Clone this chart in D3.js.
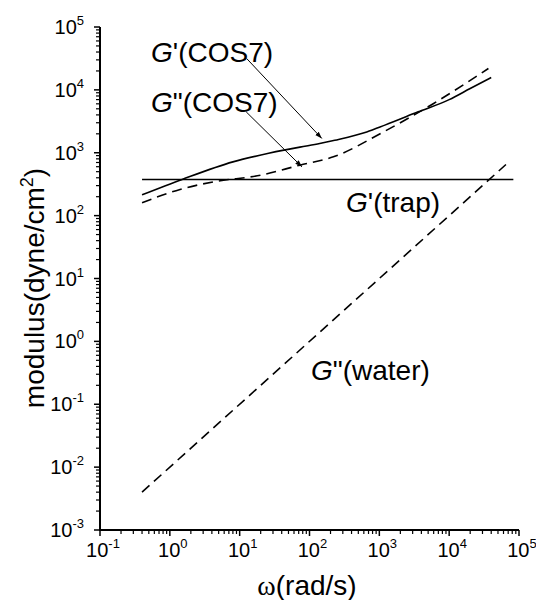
<!DOCTYPE html>
<html>
<head>
<meta charset="utf-8">
<script src="https://cdn.jsdelivr.net/npm/d3@7"></script>
<style>
  body { margin: 0; background: #fff; }
  svg text { font-family: "Liberation Sans", Arial, sans-serif; fill: #000; }
</style>
</head>
<body>
<div id="chart"></div>
<script>
// frequency (rad/s) and moduli (dyne/cm^2)
var omegaCos7Storage = [0.4, 1.5, 8, 26, 43, 73, 140, 230, 660, 1200, 3600, 10000, 20000, 40000];
var gStorageCos7 = [214, 376, 716, 980, 1100, 1230, 1400, 1580, 2140, 2750, 4470, 7000, 10500, 15700];

var omegaCos7Loss = [0.4, 1.4, 4.2, 20, 73, 220, 1150, 6000, 36500];
var gLossCos7 = [160, 261, 344, 440, 635, 860, 2150, 6080, 21900];

var omegaTrap = [0.4, 83000];
var gStorageTrap = [376, 376];

var omegaWater = [0.4, 65000];
var gLossWater = [0.004, 650];

var xTickExp = [-1, 0, 1, 2, 3, 4, 5];
var yTickExp = [-3, -2, -1, 0, 1, 2, 3, 4, 5];

document.addEventListener("DOMContentLoaded", function() {
    var w = 536;
    var h = 600;

    var x = d3.scaleLog().domain([0.1, 1e5]).range([100, 519]);
    var y = d3.scaleLog().domain([1e-3, 1e5]).range([530, 27]);

    var svg = d3.select("#chart")
                .append("svg")
                .attr("width", w)
                .attr("height", h);

    svg.append("defs").append("marker")
       .attr("id", "head")
       .attr("viewBox", "0 0 10 10")
       .attr("refX", 10).attr("refY", 5)
       .attr("markerWidth", 7).attr("markerHeight", 7)
       .attr("orient", "auto")
       .append("path")
       .attr("d", "M0,1.5 L10,5 L0,8.5 Z")
       .attr("fill", "#000");

    // minor ticks 2..9 in each decade
    function minors(exps) {
        var out = [];
        exps.slice(0, -1).forEach(function(e) {
            for (var k = 2; k <= 9; k++) out.push(k * Math.pow(10, e));
        });
        return out;
    }

    var xAxis = svg.append("g").attr("transform", "translate(0,530)");
    xAxis.append("line").attr("x1", 100).attr("x2", 519).attr("stroke", "#000").attr("stroke-width", 2);
    xAxis.selectAll(".mj").data(xTickExp).enter().append("line")
         .attr("x1", function(d) { return x(Math.pow(10, d)); })
         .attr("x2", function(d) { return x(Math.pow(10, d)); })
         .attr("y1", 0).attr("y2", 6)
         .attr("stroke", "#000").attr("stroke-width", 1.5);
    xAxis.selectAll(".mn").data(minors(xTickExp)).enter().append("line")
         .attr("x1", function(d) { return x(d); })
         .attr("x2", function(d) { return x(d); })
         .attr("y1", 0).attr("y2", 4)
         .attr("stroke", "#000").attr("stroke-width", 1.2);
    var xl = xAxis.selectAll(".lb").data(xTickExp).enter().append("text")
         .attr("x", function(d) { return x(Math.pow(10, d)) + 3; })
         .attr("y", 27)
         .attr("text-anchor", "middle")
         .style("font-size", "20px");
    xl.append("tspan").text("10");
    xl.append("tspan").attr("dy", -9).style("font-size", "13px").text(function(d) { return d; });

    var yAxis = svg.append("g").attr("transform", "translate(100,0)");
    yAxis.append("line").attr("y1", 27).attr("y2", 531).attr("stroke", "#000").attr("stroke-width", 2);
    yAxis.selectAll(".mj").data(yTickExp).enter().append("line")
         .attr("y1", function(d) { return y(Math.pow(10, d)); })
         .attr("y2", function(d) { return y(Math.pow(10, d)); })
         .attr("x1", 0).attr("x2", -6)
         .attr("stroke", "#000").attr("stroke-width", 1.5);
    yAxis.selectAll(".mn").data(minors(yTickExp)).enter().append("line")
         .attr("y1", function(d) { return y(d); })
         .attr("y2", function(d) { return y(d); })
         .attr("x1", 0).attr("x2", -4)
         .attr("stroke", "#000").attr("stroke-width", 1.2);
    var yl = yAxis.selectAll(".lb").data(yTickExp).enter().append("text")
         .attr("x", -16)
         .attr("y", function(d) { return y(Math.pow(10, d)) + 7; })
         .attr("text-anchor", "end")
         .style("font-size", "20px");
    yl.append("tspan").text("10");
    yl.append("tspan").attr("dy", -9).style("font-size", "13px").text(function(d) { return d; });

    // axis titles
    var xt = svg.append("text").attr("x", 307).attr("y", 595).attr("text-anchor", "middle").style("font-size", "28px");
    xt.append("tspan").style("font-family", "'Liberation Serif', serif").text("ω");
    xt.append("tspan").text("(rad/s)");

    var yt = svg.append("text").attr("transform", "translate(44,288) rotate(-90)")
                .attr("text-anchor", "middle").style("font-size", "28px");
    yt.append("tspan").text("modulus(dyne/cm");
    yt.append("tspan").attr("dy", -11).style("font-size", "18px").text("2");
    yt.append("tspan").attr("dy", 11).text(")");

    var line = d3.line()
                 .x(function(d) { return x(d[0]); })
                 .y(function(d) { return y(d[1]); })
                 .curve(d3.curveMonotoneX);

    var series = [
        { om: omegaCos7Storage, g: gStorageCos7, dash: null },
        { om: omegaCos7Loss, g: gLossCos7, dash: "10,6" },
        { om: omegaTrap, g: gStorageTrap, dash: null },
        { om: omegaWater, g: gLossWater, dash: "10,6" }
    ];
    series.forEach(function(s) {
        svg.append("path")
           .datum(d3.zip(s.om, s.g))
           .attr("d", line)
           .attr("fill", "none")
           .attr("stroke", "#000")
           .attr("stroke-width", 1.6)
           .attr("stroke-dasharray", s.dash);
    });

    // annotation arrows, ends given in data units
    var arrows = [[[12.6, 31500], [150, 1690]], [[12.4, 4470], [78, 597]]];
    svg.selectAll(".arrow").data(arrows).enter().append("line")
       .attr("x1", function(d) { return x(d[0][0]); })
       .attr("y1", function(d) { return y(d[0][1]); })
       .attr("x2", function(d) { return x(d[1][0]); })
       .attr("y2", function(d) { return y(d[1][1]); })
       .attr("stroke", "#000").attr("stroke-width", 1)
       .attr("marker-end", "url(#head)");

    function label(px, py, prime, rest) {
        var t = svg.append("text").attr("x", px).attr("y", py).style("font-size", "28px");
        t.append("tspan").style("font-style", "italic").text("G");
        t.append("tspan").text(prime + rest);
    }
    label(151, 62, "'", "(COS7)");
    label(151, 112, "\"", "(COS7)");
    label(346, 212, "'", "(trap)");
    label(311, 380, "\"", "(water)");
});
</script>
</body>
</html>
